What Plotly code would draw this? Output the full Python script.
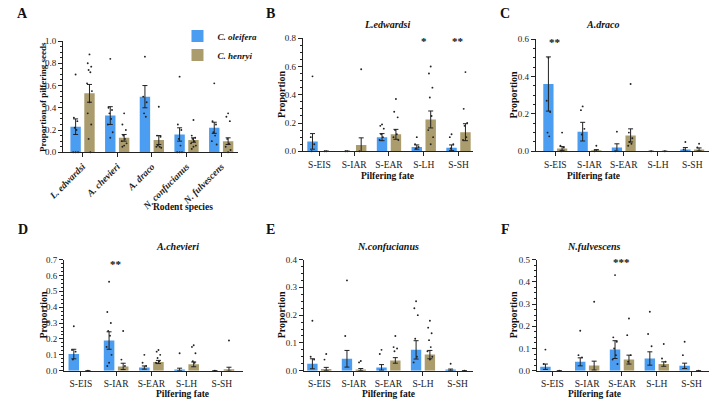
import plotly.graph_objects as go

FONT = "'Liberation Serif', 'DejaVu Serif', 'Times New Roman', serif"
BLUE = "#4a9df0"
OLIVE = "#ab9c6e"

species = ["L. edwardsi", "A. chevieri", "A. draco", "N. confucianus", "N. fulvescens"]
fates = ["S-EIS", "S-IAR", "S-EAR", "S-LH", "S-SH"]

# ---------------- Panel A: proportion of pilfered seeds per rodent species
A_ole_mean = [0.23, 0.33, 0.50, 0.16, 0.22]
A_ole_err = [0.07, 0.08, 0.10, 0.06, 0.05]
A_hen_mean = [0.53, 0.13, 0.11, 0.11, 0.10]
A_hen_err = [0.08, 0.03, 0.04, 0.02, 0.03]
A_ole_pts = [[0.70, 0.31, 0.28, 0.22, 0.20, 0.0, 0.0, 0.0],
             [0.84, 0.40, 0.38, 0.35, 0.30, 0.25, 0.18, 0.13],
             [0.86, 0.50, 0.45, 0.35, 0.32],
             [0.68, 0.25, 0.20, 0.12, 0.06, 0.0, 0.0, 0.0],
             [0.62, 0.28, 0.25, 0.18, 0.15, 0.10, 0.07]]
A_hen_pts = [[0.88, 0.80, 0.77, 0.74, 0.72, 0.62, 0.55, 0.45, 0.35, 0.25, 0.12, 0.0],
             [0.35, 0.25, 0.20, 0.15, 0.12, 0.10, 0.08, 0.06, 0.05],
             [0.41, 0.15, 0.14, 0.06, 0.05, 0.05, 0.04],
             [0.29, 0.15, 0.13, 0.12, 0.10, 0.08, 0.06, 0.05, 0.03],
             [0.35, 0.32, 0.28, 0.12, 0.08, 0.05, 0.02, 0.0]]

# ---------------- Panel B: L.edwardsi
B_ole_mean = [0.07, 0.0, 0.10, 0.03, 0.025]
B_ole_err = [0.055, 0.0, 0.025, 0.015, 0.02]
B_hen_mean = [0.0, 0.045, 0.12, 0.225, 0.135]
B_hen_err = [0.0, 0.05, 0.035, 0.06, 0.06]
B_ole_pts = [[0.53, 0.10, 0.05, 0.0], [0.0, 0.0], [0.19, 0.18, 0.16, 0.12, 0.10, 0.08],
             [0.10, 0.05, 0.03, 0.02], [0.12, 0.10, 0.05, 0.02]]
B_hen_pts = [[0.0, 0.0], [0.58, 0.0], [0.37, 0.28, 0.24, 0.15, 0.12, 0.10, 0.08],
             [0.60, 0.55, 0.45, 0.38, 0.25, 0.15, 0.10, 0.05], [0.56, 0.30, 0.20, 0.18, 0.10, 0.08]]
B_stars = [("S-LH", 0.78, "*"), ("S-SH", 0.78, "**")]

# ---------------- Panel C: A.draco
C_ole_mean = [0.36, 0.105, 0.02, 0.0, 0.01]
C_ole_err = [0.145, 0.05, 0.02, 0.0, 0.01]
C_hen_mean = [0.015, 0.005, 0.085, 0.0, 0.01]
C_hen_err = [0.01, 0.004, 0.035, 0.0, 0.008]
C_ole_pts = [[0.50, 0.27, 0.21, 0.10, 0.08], [0.24, 0.22, 0.12, 0.09], [0.105, 0.0], [0.0], [0.05, 0.01]]
C_hen_pts = [[0.10, 0.03, 0.02, 0.0], [0.03, 0.0], [0.36, 0.10, 0.07, 0.05, 0.04, 0.03], [0.0], [0.04, 0.02]]
C_stars = [("S-EIS", 0.585, "**")]

# ---------------- Panel D: A.chevieri
D_ole_mean = [0.105, 0.19, 0.02, 0.008, 0.0]
D_ole_err = [0.03, 0.055, 0.01, 0.008, 0.0]
D_hen_mean = [0.0, 0.027, 0.055, 0.04, 0.01]
D_hen_err = [0.0, 0.02, 0.01, 0.015, 0.012]
D_ole_pts = [[0.28, 0.13, 0.12, 0.07], [0.56, 0.37, 0.30, 0.25, 0.22, 0.15, 0.10, 0.05, 0.03],
             [0.10, 0.05, 0.03], [0.11], [0.0]]
D_hen_pts = [[0.0], [0.25, 0.07, 0.03], [0.13, 0.12, 0.10, 0.08, 0.06, 0.05],
             [0.16, 0.15, 0.11, 0.06, 0.05], [0.19]]
D_stars = [("S-IAR", 0.675, "**")]

# ---------------- Panel E: N.confucianus
E_ole_mean = [0.025, 0.043, 0.012, 0.075, 0.003]
E_ole_err = [0.018, 0.03, 0.01, 0.033, 0.003]
E_hen_mean = [0.006, 0.004, 0.037, 0.058, 0.0]
E_hen_err = [0.006, 0.004, 0.01, 0.015, 0.0]
E_ole_pts = [[0.18, 0.05, 0.04], [0.325, 0.125], [0.075, 0.06],
             [0.25, 0.225, 0.20, 0.115, 0.05, 0.03], [0.025]]
E_hen_pts = [[0.06, 0.04], [0.035, 0.03], [0.125, 0.085, 0.08, 0.07],
             [0.18, 0.155, 0.135, 0.11, 0.085, 0.07, 0.05, 0.04], [0.0]]
E_stars = []

# ---------------- Panel F: N.fulvescens
F_ole_mean = [0.018, 0.04, 0.095, 0.055, 0.022]
F_ole_err = [0.012, 0.018, 0.04, 0.03, 0.012]
F_hen_mean = [0.0, 0.023, 0.05, 0.03, 0.0]
F_hen_err = [0.0, 0.02, 0.02, 0.01, 0.0]
F_ole_pts = [[0.095, 0.03], [0.18, 0.07, 0.06], [0.43, 0.15, 0.13, 0.10, 0.07, 0.05, 0.03],
             [0.265, 0.165, 0.11], [0.13, 0.07]]
F_hen_pts = [[0.0], [0.31], [0.235, 0.16, 0.07, 0.04], [0.12, 0.055, 0.04], [0.0]]
F_stars = [("S-EAR", 0.49, "***")]

W, H = 709, 404


def px_x(p):
    return p / W


def px_y(p):
    return 1 - p / H


panels = [
    dict(cats=species, om=A_ole_mean, oe=A_ole_err, hm=A_hen_mean, he=A_hen_err, op=A_ole_pts, hp=A_hen_pts,
         stars=[], xd=(49, 228), yd=(37, 151), xr=(-0.565, 4.49), ymax=1.0, dt=0.2, mn=0.05,
         title=None, tpos=None, ytitle="Proportion of pilfering seeds", ytx=28, xtitle="Rodent species", xty=207,
         letter="A", lpos=(8, 9)),
    dict(cats=fates, om=B_ole_mean, oe=B_ole_err, hm=B_hen_mean, he=B_hen_err, op=B_ole_pts, hp=B_hen_pts,
         stars=B_stars, xd=(294, 468), yd=(34, 150), xr=(-0.48, 4.42), ymax=0.8, dt=0.2, mn=0.05,
         title="L.edwardsi", tpos=(20,), ytitle="Proportion", ytx=272, xtitle="Pilfering fate", xty=175,
         letter="B", lpos=(261, 9)),
    dict(cats=fates, om=C_ole_mean, oe=C_ole_err, hm=C_hen_mean, he=C_hen_err, op=C_ole_pts, hp=C_hen_pts,
         stars=C_stars, xd=(532, 709), yd=(35, 150), xr=(-0.57, 4.49), ymax=0.6, dt=0.2, mn=0.05,
         title="A.draco", tpos=(20,), ytitle="Proportion", ytx=509, xtitle="Pilfering fate", xty=175,
         letter="C", lpos=(501, 9)),
    dict(cats=fates, om=D_ole_mean, oe=D_ole_err, hm=D_hen_mean, he=D_hen_err, op=D_ole_pts, hp=D_hen_pts,
         stars=D_stars, xd=(50, 233), yd=(261, 375), xr=(-0.48, 4.6), ymax=0.7, dt=0.1, mn=0.025,
         title="A.chevieri", tpos=(248,), ytitle="Proportion", ytx=29, xtitle="Pilfering fate", xty=398.5,
         letter="D", lpos=(8, 230)),
    dict(cats=fates, om=E_ole_mean, oe=E_ole_err, hm=E_hen_mean, he=E_hen_err, op=E_ole_pts, hp=E_hen_pts,
         stars=E_stars, xd=(295, 468), yd=(261, 375), xr=(-0.45, 4.45), ymax=0.4, dt=0.1, mn=0.025,
         title="N.confucianus", tpos=(248,), ytitle="Proportion", ytx=272, xtitle="Pilfering fate", xty=398.5,
         letter="E", lpos=(261, 230)),
    dict(cats=fates, om=F_ole_mean, oe=F_ole_err, hm=F_hen_mean, he=F_hen_err, op=F_ole_pts, hp=F_hen_pts,
         stars=F_stars, xd=(533, 709), yd=(261, 375), xr=(-0.45, 4.5), ymax=0.5, dt=0.1, mn=0.025,
         title="N.fulvescens", tpos=(248,), ytitle="Proportion", ytx=509, xtitle="Pilfering fate", xty=398.5,
         letter="F", lpos=(501, 230)),
]

fig = go.Figure()
annotations = []
OFF = 0.2
BW = 0.3
JIT = [0.0, -0.05, 0.05, -0.025, 0.025, -0.07, 0.07]

for k, p in enumerate(panels):
    n = k + 1
    xa = "x" if n == 1 else f"x{n}"
    ya = "y" if n == 1 else f"y{n}"
    idx = list(range(len(p["cats"])))
    for sign, mean, err, pts, color, name in [
        (-1, p["om"], p["oe"], p["op"], BLUE, "C. oleifera"),
        (1, p["hm"], p["he"], p["hp"], OLIVE, "C. henryi"),
    ]:
        fig.add_trace(go.Bar(
            x=[i + sign * OFF for i in idx], y=mean, width=BW,
            marker=dict(color=color, line=dict(width=0)),
            error_y=dict(type="data", array=err, symmetric=True, color="#222222", thickness=1, width=2.5),
            xaxis=xa, yaxis=ya, name=name, showlegend=(n == 1), legendgroup=name,
        ))
        dx, dy = [], []
        for i, vals in zip(idx, pts):
            for j, v in enumerate(vals):
                dx.append(i + sign * OFF + JIT[j % len(JIT)])
                dy.append(v)
        fig.add_trace(go.Scatter(
            x=dx, y=dy, mode="markers", marker=dict(color="#222222", size=1.9),
            xaxis=xa, yaxis=ya, showlegend=False, hoverinfo="skip", cliponaxis=False,
        ))

    xdom = [px_x(p["xd"][0]), px_x(p["xd"][1])]
    ydom = [px_y(p["yd"][1]), px_y(p["yd"][0])]
    xkey = "xaxis" if n == 1 else f"xaxis{n}"
    ykey = "yaxis" if n == 1 else f"yaxis{n}"
    tickfont = dict(family=FONT, size=9.5, color="#222222")
    if n == 1:
        ticktext = [f"<b><i>{c}</i></b>" for c in p["cats"]]
        tickangle = -45
    else:
        ticktext = p["cats"]
        tickangle = 0
    fig.update_layout({
        xkey: dict(domain=xdom, anchor=ya, range=list(p["xr"]), tickmode="array", tickvals=idx,
                   ticktext=ticktext, tickangle=tickangle, ticks="outside", ticklen=4, tickwidth=1,
                   tickcolor="#222222", showline=True, linecolor="#222222", linewidth=1, showgrid=False,
                   zeroline=False, tickfont=tickfont, fixedrange=True),
        ykey: dict(domain=ydom, anchor=xa, range=[0, p["ymax"]], dtick=p["dt"], tick0=0, tickformat=".1f",
                   ticks="outside", ticklen=4, tickwidth=1, tickcolor="#222222", showline=True,
                   linecolor="#222222", linewidth=1, showgrid=False, zeroline=False,
                   tickfont=dict(family=FONT, size=9, color="#222222"),
                   minor=dict(dtick=p["mn"], ticks="outside", ticklen=2, tickcolor="#222222", showgrid=False),
                   fixedrange=True),
    })
    for cat, yv, txt in p["stars"]:
        annotations.append(dict(x=p["cats"].index(cat), y=yv, xref=xa, yref=ya, text=f"<b>{txt}</b>",
                                showarrow=False, font=dict(family=FONT, size=11, color="#111111"),
                                yanchor="middle"))
    if p["title"]:
        annotations.append(dict(x=(xdom[0] + xdom[1]) / 2, y=px_y(p["tpos"][0]), xref="paper", yref="paper",
                                text=f"<b><i>{p['title']}</i></b>", showarrow=False,
                                font=dict(family=FONT, size=10, color="#111111"), yanchor="middle"))
    annotations.append(dict(x=px_x(p["ytx"]), y=(ydom[0] + ydom[1]) / 2, xref="paper", yref="paper",
                            text=f"<b>{p['ytitle']}</b>", textangle=-90, showarrow=False,
                            font=dict(family=FONT, size=9 if n == 1 else 10, color="#111111"),
                            xanchor="center", yanchor="middle"))
    annotations.append(dict(x=(xdom[0] + xdom[1]) / 2 if n != 1 else px_x(139), y=px_y(p["xty"]),
                            xref="paper", yref="paper", text=f"<b>{p['xtitle']}</b>", showarrow=False,
                            font=dict(family=FONT, size=9.5, color="#111111"), yanchor="middle"))
    annotations.append(dict(x=px_x(p["lpos"][0]), y=px_y(p["lpos"][1]), xref="paper", yref="paper",
                            text=f"<b>{p['letter']}</b>", showarrow=False,
                            font=dict(family=FONT, size=14, color="#111111"), xanchor="center", yanchor="middle"))

fig.update_layout(
    width=W, height=H, margin=dict(l=0, r=0, t=0, b=0),
    paper_bgcolor="white", plot_bgcolor="white",
    barmode="overlay",
    font=dict(family=FONT, color="#111111"),
    annotations=annotations,
    legend=dict(x=px_x(166), y=px_y(17), xanchor="left", yanchor="top", bgcolor="rgba(0,0,0,0)",
                font=dict(family=FONT, size=9, style="italic", weight="bold", color="#111111"),
                itemwidth=30, tracegroupgap=0),
)

fig.write_html("out.html")
